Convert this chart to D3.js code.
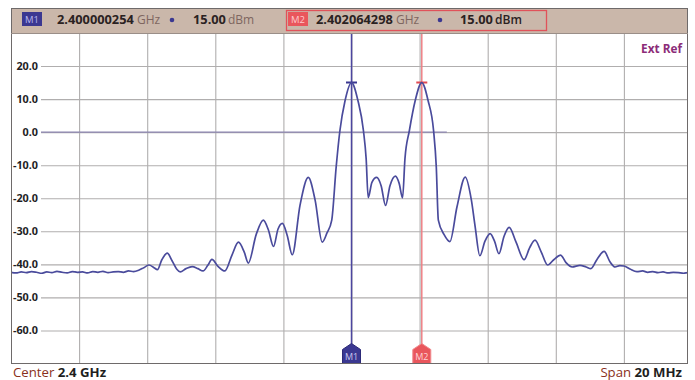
<!DOCTYPE html>
<html>
<head>
<meta charset="utf-8">
<script src="https://cdn.jsdelivr.net/npm/d3@7"></script>
<style>
  html, body { margin: 0; padding: 0; background: #fff; }
  svg { display: block; font-family: "Open Sans", "Noto Sans", sans-serif; }
</style>
</head>
<body>
<svg id="chart" width="695" height="380"></svg>
<script>
// Sweep: centre 2.4 GHz, span 20 MHz, offsets in MHz from centre
const centerGHz = 2.4;
const spanMHz = 20;

const traceOffsetMHz = [
  -10.00, -9.85, -9.70, -9.55, -9.40, -9.25, -9.10, -8.95, -8.80, -8.65,
  -8.50, -8.35, -8.20, -8.05, -7.90, -7.75, -7.60, -7.45, -7.30, -7.15,
  -7.00, -6.85, -6.70, -6.55, -6.40, -6.25, -6.10, -5.95, -5.80, -5.70,
  -5.57, -5.41, -5.27, -5.13, -5.03, -4.86, -4.68, -4.51, -4.36, -4.22,
  -4.10, -3.92, -3.72, -3.51, -3.32, -3.15, -3.03, -2.80, -2.59, -2.44,
  -2.29, -2.16, -2.03, -1.89, -1.74, -1.51, -1.27, -1.07, -0.86, -0.72,
  -0.58, -0.45, -0.34, -0.19, 0.00, 0.19, 0.35, 0.43, 0.49, 0.60,
  0.74, 0.87, 1.00, 1.13, 1.29, 1.40, 1.50, 1.57, 1.70, 1.87,
  2.064, 2.25, 2.41, 2.49, 2.55, 2.72, 2.89, 3.10, 3.34, 3.52,
  3.63, 3.77, 3.92, 4.07, 4.20, 4.33, 4.48, 4.63, 4.83, 5.07,
  5.23, 5.39, 5.57, 5.76, 5.94, 6.14, 6.30, 6.48, 6.71, 6.89,
  7.03, 7.21, 7.42, 7.59, 7.74, 7.88, 8.00, 8.18, 8.38, 8.55,
  8.70, 8.85, 9.00, 9.15, 9.30, 9.45, 9.60, 9.75, 9.90, 10.00
];

const traceLevelDbm = [
  -42.4, -42.6, -42.3, -42.5, -42.2, -42.4, -42.7, -42.3, -42.5, -42.1,
  -42.4, -42.6, -42.2, -42.4, -42.3, -42.6, -42.2, -42.4, -42.1, -42.5,
  -42.3, -42.2, -42.4, -42.0, -42.2, -41.8, -41.0, -40.2, -41.0, -41.6,
  -38.6, -36.6, -38.9, -41.5, -42.3, -41.3, -40.7, -41.3, -42.0, -40.3,
  -38.5, -40.6, -42.0, -37.2, -33.3, -36.3, -39.6, -31.0, -26.6, -29.6,
  -34.6, -29.4, -27.6, -31.2, -37.1, -22.0, -13.7, -20.5, -33.3, -30.5,
  -26.6, -10.5, 0.5, 9.5, 15.0, 9.5, 0.5, -8.0, -19.8, -15.2,
  -13.7, -16.2, -22.2, -16.2, -13.3, -15.5, -19.9, -8.0, 0.5, 9.5,
  15.0, 9.5, 0.5, -10.5, -26.6, -31.0, -33.1, -22.5, -13.6, -20.5,
  -28.5, -37.4, -33.0, -30.7, -33.0, -36.8, -31.5, -28.8, -33.2, -38.6,
  -35.0, -32.7, -36.2, -40.2, -38.6, -37.2, -39.5, -40.8, -40.3, -40.8,
  -41.3, -38.5, -36.1, -39.2, -40.8, -40.4, -40.5, -41.4, -42.2, -42.0,
  -42.4, -42.2, -42.5, -42.3, -42.6, -42.4, -42.5, -42.7, -42.5, -42.6
];

const yTickValues = [20, 10, 0, -10, -20, -30, -40, -50, -60];

const markerNames = ["M1", "M2"];
const markerFreqGHz = [2.400000254, 2.402064298];
const markerLevelDbm = [15.00, 15.00];
const markerColors = ["#3b3891", "#e9565c"];

// Display line at 0 dBm, drawn up to this offset (MHz)
const displayLineDbm = 0;
const displayLineEndMHz = 2.8;

const svg = d3.select("#chart");

// Plot frame geometry
const plot = { left: 11, right: 692, frameRight: 688, top: 33, bottom: 363.5 };

const x = d3.scaleLinear().domain([-spanMHz / 2, spanMHz / 2]).range([plot.left, plot.right]);
const y = d3.scaleLinear().domain([30, -70]).range([plot.top, plot.bottom]);

svg.append("defs").append("clipPath").attr("id", "plotClip")
  .append("rect")
  .attr("x", plot.left).attr("y", plot.top)
  .attr("width", plot.frameRight - plot.left).attr("height", plot.bottom - plot.top);

// Grid
const grid = svg.append("g").attr("clip-path", "url(#plotClip)");

grid.append("g")
  .attr("transform", `translate(0,${plot.bottom})`)
  .call(d3.axisBottom(x).tickValues(d3.range(-8, 10, 2)).tickSize(-(plot.bottom - plot.top)).tickFormat(""))
  .call(g => g.select(".domain").remove())
  .call(g => g.selectAll("line").attr("stroke", "#b0aeae").attr("stroke-width", 1.1));

grid.append("g")
  .attr("transform", `translate(${plot.left},0)`)
  .call(d3.axisLeft(y).tickValues(yTickValues).tickSize(-(plot.frameRight - plot.left)).tickFormat(""))
  .call(g => g.select(".domain").remove())
  .call(g => g.selectAll("line").attr("stroke", "#b0aeae").attr("stroke-width", 1.1));

grid.append("line")
  .attr("x1", plot.left).attr("x2", x(displayLineEndMHz))
  .attr("y1", y(displayLineDbm)).attr("y2", y(displayLineDbm))
  .attr("stroke", "#8c85b0").attr("stroke-width", 1.2);

// Y labels on white backing
const yLab = svg.append("g");
yLab.selectAll("rect").data(yTickValues).join("rect")
  .attr("x", plot.left + 1).attr("y", d => y(d) - 7)
  .attr("width", 29).attr("height", 14).attr("fill", "#fff");
yLab.selectAll("text").data(yTickValues).join("text")
  .attr("x", 38).attr("y", d => y(d) + 4)
  .attr("text-anchor", "end")
  .attr("font-size", 10.8).attr("font-weight", 700).attr("fill", "#1e1e24")
  .text(d => d3.format(".1f")(d).replace("−", "-"));

// Marker vertical lines
const mOffset = markerFreqGHz.map(f => (f - centerGHz) * 1000);
const markerG = svg.append("g").attr("clip-path", "url(#plotClip)");
markerG.selectAll("line.mv").data(markerNames).join("line")
  .attr("class", "mv")
  .attr("x1", (d, i) => x(mOffset[i])).attr("x2", (d, i) => x(mOffset[i]))
  .attr("y1", plot.top).attr("y2", plot.bottom - 19)
  .attr("stroke", (d, i) => i === 0 ? "#4c46a0" : "#ee8086")
  .attr("stroke-width", 1.5);

// Trace
const traceData = traceOffsetMHz.map((f, i) => [f, traceLevelDbm[i]]);
svg.append("path")
  .datum(traceData)
  .attr("clip-path", "url(#plotClip)")
  .attr("fill", "none")
  .attr("stroke", "#4a4b9c")
  .attr("stroke-width", 1.7)
  .attr("stroke-linejoin", "round")
  .attr("d", d3.line().x(d => x(d[0])).y(d => y(d[1])).curve(d3.curveMonotoneX));

// Peak ticks
markerG.selectAll("line.pk").data(markerNames).join("line")
  .attr("class", "pk")
  .attr("x1", (d, i) => x(mOffset[i]) - 5.5).attr("x2", (d, i) => x(mOffset[i]) + 5.5)
  .attr("y1", (d, i) => y(markerLevelDbm[i])).attr("y2", (d, i) => y(markerLevelDbm[i]))
  .attr("stroke", (d, i) => i === 0 ? "#3b3891" : "#e24a52")
  .attr("stroke-width", 2);

// Marker flags at the bottom
const flag = svg.append("g").selectAll("g").data(markerNames).join("g")
  .attr("transform", (d, i) => `translate(${x(mOffset[i])},${plot.bottom})`);
flag.append("path")
  .attr("d", "M-9,0 L-9,-14 L0,-20 L9,-14 L9,0 Z")
  .attr("fill", (d, i) => markerColors[i])
  .attr("stroke", (d, i) => i === 0 ? "#2c2a78" : "#f08a8e")
  .attr("stroke-width", 1);
flag.append("text")
  .attr("y", -3.5).attr("text-anchor", "middle")
  .attr("font-size", 9).attr("fill", (d, i) => i === 0 ? "#c9c6f0" : "#ffd3d5")
  .text(d => d);

// Frame
svg.append("rect")
  .attr("x", plot.left + 0.5).attr("y", 8.5)
  .attr("width", plot.frameRight - plot.left - 1).attr("height", plot.bottom - 8.5)
  .attr("fill", "none").attr("stroke", "#6e6a6a").attr("stroke-width", 1);

// Header bar
const header = svg.append("g");
header.append("rect")
  .attr("x", plot.left + 1).attr("y", 9)
  .attr("width", plot.frameRight - plot.left - 2).attr("height", plot.top - 9)
  .attr("fill", "#cab7aa");
header.append("line")
  .attr("x1", plot.left).attr("x2", plot.frameRight)
  .attr("y1", plot.top + 0.5).attr("y2", plot.top + 0.5)
  .attr("stroke", "#9a8e88").attr("stroke-width", 1);

const headerLayout = [
  { box: 22, num: 57, unit: 137, dot: 172, lvl: 193, lvlUnit: 228 },
  { box: 288, num: 316, unit: 396, dot: 440, lvl: 460, lvlUnit: 495 }
];

// M2 readout outline
header.append("rect")
  .attr("x", 286.5).attr("y", 10.5).attr("width", 260).attr("height", 20)
  .attr("fill", "none").attr("stroke", "#e0525a").attr("stroke-width", 1.3);

markerNames.forEach((name, i) => {
  const L = headerLayout[i];
  header.append("rect")
    .attr("x", L.box).attr("y", 12).attr("width", 20).attr("height", 14)
    .attr("fill", markerColors[i]);
  header.append("text")
    .attr("x", L.box + 10).attr("y", 23).attr("text-anchor", "middle")
    .attr("font-size", 9.5).attr("fill", i === 0 ? "#b9b6ee" : "#ffc9cc")
    .text(name);
  header.append("text")
    .attr("x", L.num).attr("y", 24)
    .attr("font-size", 12.8).attr("font-weight", 700).attr("fill", "#2a2222")
    .text(d3.format(".9f")(markerFreqGHz[i]));
  header.append("text")
    .attr("x", L.unit).attr("y", 24)
    .attr("font-size", 12).attr("fill", "#7e6660")
    .text("GHz");
  header.append("circle")
    .attr("cx", L.dot).attr("cy", 20).attr("r", 2.3)
    .attr("fill", "#3b3891");
  header.append("text")
    .attr("x", L.lvl).attr("y", 24)
    .attr("font-size", 12.8).attr("font-weight", 700).attr("fill", "#2a2222")
    .text(d3.format(".2f")(markerLevelDbm[i]));
  header.append("text")
    .attr("x", L.lvlUnit).attr("y", 24)
    .attr("font-size", 12).attr("fill", i === 0 ? "#7e6660" : "#2a2222")
    .attr("font-weight", i === 0 ? 400 : 600)
    .text("dBm");
});

// Ext Ref tag
svg.append("text")
  .attr("x", 682).attr("y", 53).attr("text-anchor", "end")
  .attr("font-size", 11.8).attr("font-weight", 700).attr("fill", "#8c2c78")
  .text("Ext Ref");

// Bottom annotations
const centerText = svg.append("text")
  .attr("x", 13).attr("y", 377).attr("font-size", 13.2);
centerText.append("tspan").attr("fill", "#8a3020").text("Center ");
centerText.append("tspan").attr("fill", "#1e1e1e").attr("font-weight", 700).text(`${centerGHz} GHz`);

const spanText = svg.append("text")
  .attr("x", 682).attr("y", 377).attr("font-size", 13.2).attr("text-anchor", "end");
spanText.append("tspan").attr("fill", "#8a3020").text("Span ");
spanText.append("tspan").attr("fill", "#1e1e1e").attr("font-weight", 700).text(`${spanMHz} MHz`);
</script>
</body>
</html>
